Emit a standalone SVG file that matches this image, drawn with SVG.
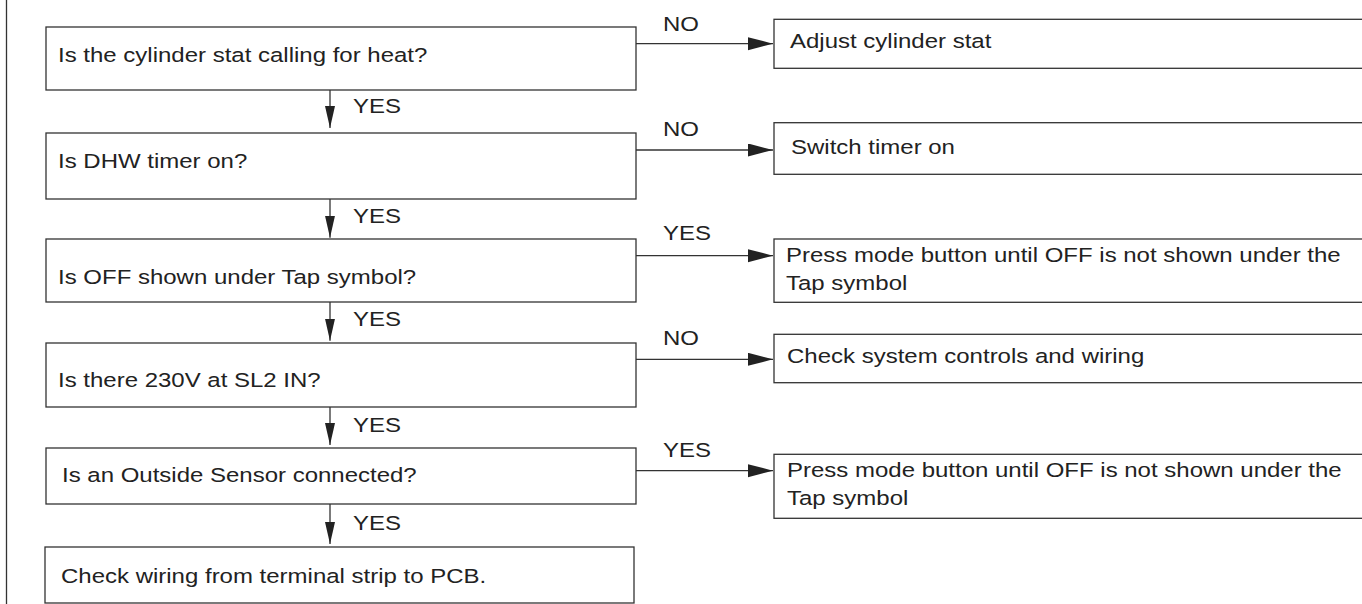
<svg xmlns="http://www.w3.org/2000/svg" width="1362" height="604" viewBox="0 0 1362 604">
<style>
.box{fill:#fff;stroke:#333;stroke-width:1.3}
.ln{fill:none;stroke:#333;stroke-width:1.3}
.t{font-family:"Liberation Sans",Arial,sans-serif;font-size:24px;fill:#222}
</style>
<defs>
<marker id="ah" markerUnits="userSpaceOnUse" markerWidth="26" markerHeight="14" refX="25" refY="6.5" orient="auto">
<path d="M0,0 L25,6.5 L0,13 z" fill="#222"/>
</marker>
<marker id="av" markerUnits="userSpaceOnUse" markerWidth="23" markerHeight="11" refX="22" refY="5" orient="auto">
<path d="M0,0 L22,5 L0,10 z" fill="#222"/>
</marker>
</defs>
<rect width="1362" height="604" fill="#fff"/>
<line x1="6.5" y1="0" x2="6.5" y2="604" class="ln"/>

<g id="q1"><rect class="box" x="46" y="27" width="590" height="63"/><text class="t" transform="translate(58 62) scale(1 .88)">Is the cylinder stat calling for heat?</text></g>
<g id="q2"><rect class="box" x="46" y="133" width="590" height="66"/><text class="t" transform="translate(58 168) scale(1 .88)">Is DHW timer on?</text></g>
<g id="q3"><rect class="box" x="46" y="239" width="590" height="63"/><text class="t" transform="translate(58 284) scale(1 .88)">Is OFF shown under Tap symbol?</text></g>
<g id="q4"><rect class="box" x="46" y="343" width="590" height="64"/><text class="t" transform="translate(58 387) scale(1 .88)">Is there 230V at SL2 IN?</text></g>
<g id="q5"><rect class="box" x="46" y="448" width="590" height="56"/><text class="t" transform="translate(62 482) scale(1 .88)">Is an Outside Sensor connected?</text></g>
<g id="q6"><rect class="box" x="45" y="547" width="589" height="56"/><text class="t" transform="translate(61 583) scale(1 .88)">Check wiring from terminal strip to PCB.</text></g>

<g id="a1"><rect class="box" x="774" y="19.3" width="600" height="49"/><text class="t" transform="translate(790 48) scale(1 .88)">Adjust cylinder stat</text></g>
<g id="a2"><rect class="box" x="774" y="122.7" width="600" height="51.6"/><text class="t" transform="translate(791 154.3) scale(1 .88)">Switch timer on</text></g>
<g id="a3"><rect class="box" x="774" y="239" width="600" height="63.3"/><text class="t" transform="translate(786 261.7) scale(1 .88)">Press mode button until OFF is not shown under the<tspan x="0" dy="32.2">Tap symbol</tspan></text></g>
<g id="a4"><rect class="box" x="774" y="334.3" width="600" height="48.4"/><text class="t" transform="translate(787 363.3) scale(1 .88)">Check system controls and wiring</text></g>
<g id="a5"><rect class="box" x="774" y="454.3" width="600" height="64"/><text class="t" transform="translate(787 476.7) scale(1 .88)">Press mode button until OFF is not shown under the<tspan x="0" dy="32.2">Tap symbol</tspan></text></g>

<g id="connectors">
<line class="ln" x1="330" y1="90" x2="330" y2="128" marker-end="url(#av)"/>
<line class="ln" x1="330" y1="199" x2="330" y2="237.7" marker-end="url(#av)"/>
<line class="ln" x1="330" y1="302" x2="330" y2="340.7" marker-end="url(#av)"/>
<line class="ln" x1="330" y1="407" x2="330" y2="445" marker-end="url(#av)"/>
<line class="ln" x1="330" y1="504" x2="330" y2="544" marker-end="url(#av)"/>
<line class="ln" x1="636" y1="43.7" x2="773" y2="43.7" marker-end="url(#ah)"/>
<line class="ln" x1="636" y1="150" x2="773" y2="150" marker-end="url(#ah)"/>
<line class="ln" x1="636" y1="255.7" x2="773" y2="255.7" marker-end="url(#ah)"/>
<line class="ln" x1="636" y1="359.3" x2="773" y2="359.3" marker-end="url(#ah)"/>
<line class="ln" x1="636" y1="470.7" x2="773" y2="470.7" marker-end="url(#ah)"/>
<text class="t" transform="translate(353 113) scale(1 .88)">YES</text>
<text class="t" transform="translate(353 223) scale(1 .88)">YES</text>
<text class="t" transform="translate(353 326) scale(1 .88)">YES</text>
<text class="t" transform="translate(353 432) scale(1 .88)">YES</text>
<text class="t" transform="translate(353 530) scale(1 .88)">YES</text>
<text class="t" transform="translate(663 30.7) scale(1 .88)">NO</text>
<text class="t" transform="translate(663 135.6) scale(1 .88)">NO</text>
<text class="t" transform="translate(663 240) scale(1 .88)">YES</text>
<text class="t" transform="translate(663 345) scale(1 .88)">NO</text>
<text class="t" transform="translate(663 456.7) scale(1 .88)">YES</text>
</g>
</svg>
